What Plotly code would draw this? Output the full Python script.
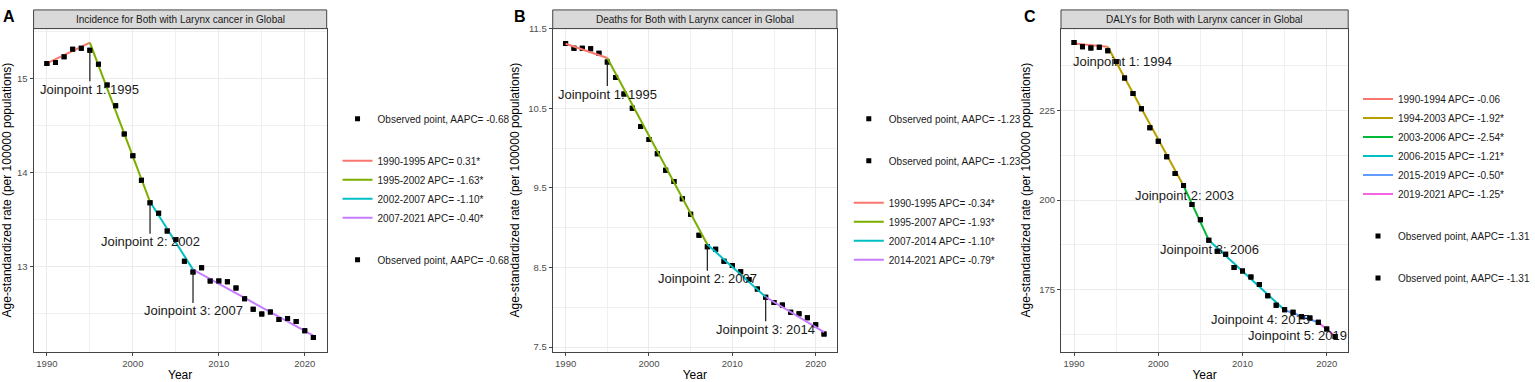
import plotly.graph_objects as go

# ---------------- data ----------------
years = [1990, 1991, 1992, 1993, 1994, 1995, 1996, 1997, 1998, 1999, 2000,
         2001, 2002, 2003, 2004, 2005, 2006, 2007, 2008, 2009, 2010, 2011,
         2012, 2013, 2014, 2015, 2016, 2017, 2018, 2019, 2020, 2021]

inc_obs = [15.16, 15.17, 15.23, 15.31, 15.32, 15.30, 15.15, 14.93, 14.71, 14.41, 14.18,
           13.92, 13.68, 13.57, 13.38, 13.29, 13.06, 12.945, 12.99, 12.85, 12.85, 12.84,
           12.775, 12.66, 12.55, 12.50, 12.52, 12.44, 12.45, 12.42, 12.32, 12.25]
inc_jp_years = [1990, 1995, 2002, 2007, 2021]
inc_jp_fit = [15.16, 15.38, 13.69, 12.97, 12.27]
inc_seg_labels = ["1990-1995 APC= 0.31*", "1995-2002 APC= -1.63*",
                  "2002-2007 APC= -1.10*", "2007-2021 APC= -0.40*"]
inc_aapc = "Observed point, AAPC= -0.68"
inc_joinpoints = [1995, 2002, 2007]

death_obs = [11.312, 11.254, 11.254, 11.247, 11.19, 11.08, 10.885, 10.68, 10.50, 10.27, 10.107,
             9.93, 9.72, 9.58, 9.365, 9.17, 8.906, 8.76, 8.73, 8.578, 8.525, 8.446,
             8.35, 8.23, 8.126, 8.06, 8.03, 7.94, 7.92, 7.87, 7.78, 7.665]
death_jp_years = [1990, 1995, 2007, 2014, 2021]
death_jp_fit = [11.31, 11.13, 8.79, 8.13, 7.69]
death_seg_labels = ["1990-1995 APC= -0.34*", "1995-2007 APC= -1.93*",
                    "2007-2014 APC= -1.10*", "2014-2021 APC= -0.79*"]
death_aapc = "Observed point, AAPC= -1.23"
death_joinpoints = [1995, 2007, 2014]

daly_obs = [244.0, 242.8, 242.5, 242.7, 241.7, 238.7, 234.1, 229.8, 225.5, 220.2, 216.4,
            212.1, 207.4, 204.1, 198.8, 194.5, 188.8, 185.7, 184.9, 181.2, 180.2, 178.5,
            176.4, 173.3, 170.6, 169.4, 168.7, 167.4, 167.1, 165.9, 164.0, 161.9]
daly_jp_years = [1990, 1994, 2003, 2006, 2015, 2019, 2021]
daly_jp_fit = [243.7, 242.8, 204.0, 188.8, 169.3, 165.8, 162.0]
daly_seg_labels = ["1990-1994 APC= -0.06", "1994-2003 APC= -1.92*", "2003-2006 APC= -2.54*",
                   "2006-2015 APC= -1.21*", "2015-2019 APC= -0.50*", "2019-2021 APC= -1.25*"]
daly_aapc = "Observed point, AAPC= -1.31"
daly_joinpoints = [1994, 2003, 2006, 2015, 2019]

titles = ["Incidence for Both with Larynx cancer in Global",
          "Deaths for Both with Larynx cancer in Global",
          "DALYs for Both with Larynx cancer in Global"]
panel_letters = ["A", "B", "C"]

colors4 = ["#F8766D", "#7CAE00", "#00BFC4", "#C77CFF"]
colors6 = ["#F8766D", "#B79F00", "#00BA38", "#00BFC4", "#619CFF", "#F564E3"]

# ---------------- layout helpers ----------------
W, H = 1535, 382
FONT = "Liberation Sans, Arial, sans-serif"


def px(x):
    return x / W


def py(y):
    return 1 - y / H


panels = [  # plot-area pixel boxes (left, right, top, bottom)
    dict(l=34, r=331, t=23, b=352, yr=[12.10, 15.53], dt=1, t0=0, mdt=0.5),
    dict(l=560, r=848, t=23, b=352, yr=[7.445, 11.50], dt=1, t0=7.5, mdt=0.5),
    dict(l=1075, r=1366, t=23, b=352, yr=[157.7, 247.9], dt=25, t0=0, mdt=12.5),
]

fig = go.Figure()


def obs_trace(vals, name, axis, legend, group, show=True):
    return go.Scatter(x=years, y=vals, mode="markers", name=name,
                      marker=dict(symbol="square", size=5, color="black"),
                      xaxis=axis[0], yaxis=axis[1], legend=legend,
                      legendgroup=group, showlegend=show, hoverinfo="x+y")


def seg_traces(jy, jv, labels, cols, axis, legend):
    out = []
    for i, lab in enumerate(labels):
        out.append(go.Scatter(x=[jy[i], jy[i + 1]], y=[jv[i], jv[i + 1]], mode="lines",
                              name=lab, line=dict(color=cols[i], width=2),
                              xaxis=axis[0], yaxis=axis[1], legend=legend,
                              legendgroup="seg"))
    return out


# Panel A: observed, segments, observed
axA = ("x", "y")
fig.add_trace(obs_trace(inc_obs, inc_aapc, axA, "legend", "o1"))
for t in seg_traces(inc_jp_years, inc_jp_fit, inc_seg_labels, colors4, axA, "legend"):
    fig.add_trace(t)
fig.add_trace(obs_trace(inc_obs, inc_aapc, axA, "legend", "o2"))

# Panel B: observed, observed, segments
axB = ("x2", "y2")
fig.add_trace(obs_trace(death_obs, death_aapc, axB, "legend2", "o1"))
fig.add_trace(obs_trace(death_obs, death_aapc, axB, "legend2", "o2"))
for t in seg_traces(death_jp_years, death_jp_fit, death_seg_labels, colors4, axB, "legend2"):
    fig.add_trace(t)

# Panel C: segments, observed, observed
axC = ("x3", "y3")
for t in seg_traces(daly_jp_years, daly_jp_fit, daly_seg_labels, colors6, axC, "legend3"):
    fig.add_trace(t)
fig.add_trace(obs_trace(daly_obs, daly_aapc, axC, "legend3", "o1"))
fig.add_trace(obs_trace(daly_obs, daly_aapc, axC, "legend3", "o2"))

# ---------------- axes ----------------
axis_common = dict(showline=True, mirror=True, linecolor="#444444", linewidth=1,
                   showgrid=True, gridcolor="#EBEBEB", gridwidth=1,
                   ticks="outside", ticklen=3, tickwidth=1, tickcolor="#444444",
                   tickfont=dict(family=FONT, size=9.5, color="#4D4D4D"),
                   zeroline=False)
shapes = []
annotations = []
for i, p in enumerate(panels):
    sfx = "" if i == 0 else str(i + 1)
    fig.layout["xaxis" + sfx] = dict(
        axis_common, domain=[px(p["l"]), px(p["r"])], range=[1988.45, 2022.55],
        tick0=1990, dtick=10, anchor="y" + sfx,
        minor=dict(dtick=5, tick0=1990, showgrid=True, gridcolor="#F0F0F0", gridwidth=0.7),
        title=dict(text="Year", font=dict(family=FONT, size=12, color="black"), standoff=3))
    fig.layout["yaxis" + sfx] = dict(
        axis_common, domain=[py(p["b"]), py(p["t"])], range=p["yr"],
        tick0=p["t0"], dtick=p["dt"], anchor="x" + sfx,
        minor=dict(dtick=p["mdt"], tick0=p["t0"], showgrid=True, gridcolor="#F0F0F0", gridwidth=0.7),
        title=dict(text="Age-standardized rate (per 100000 populations)",
                   font=dict(family=FONT, size=12, color="black"), standoff=6))
    # strip
    shapes.append(dict(type="rect", xref="paper", yref="paper",
                       x0=px(p["l"]), x1=px(p["r"]), y0=py(p["t"]), y1=py(4),
                       fillcolor="#D9D9D9", line=dict(color="#444444", width=1), layer="above"))
    annotations.append(dict(text=titles[i], xref="paper", yref="paper",
                            x=px((p["l"] + p["r"]) / 2), y=py(13.5), showarrow=False,
                            xanchor="center", yanchor="middle",
                            font=dict(family=FONT, size=10, color="#1A1A1A")))

letter_x = [9, 527, 1044]
for L, lx in zip(panel_letters, letter_x):
    annotations.append(dict(text="<b>%s</b>" % L, xref="paper", yref="paper",
                            x=px(lx), y=py(11), showarrow=False, xanchor="center",
                            yanchor="middle", font=dict(family=FONT, size=16, color="black")))

# joinpoint labels with connecting segments (A, B)
jp_font = dict(family=FONT, size=13, color="#1A1A1A")
for jps, obs, ax, offset in [(inc_joinpoints, inc_obs, axA, 39),
                             (death_joinpoints, death_obs, axB, 32)]:
    for k, yr in enumerate(jps):
        annotations.append(dict(text="Joinpoint %d: %d" % (k + 1, yr), x=yr,
                                y=obs[years.index(yr)], xref=ax[0], yref=ax[1],
                                showarrow=True, arrowhead=0, arrowwidth=1.2,
                                arrowcolor="#1A1A1A", ax=0, ay=offset, standoff=0,
                                font=jp_font, borderpad=0))

# joinpoint labels for C (text only, shifted like the original)
c_shifts = [(15, -10.3), (1, -10.3), (1, -9.6), (-24, -10), (-21, -13)]
for k, yr in enumerate(daly_joinpoints):
    annotations.append(dict(text="Joinpoint %d: %d" % (k + 1, yr), x=yr,
                            y=daly_obs[years.index(yr)], xref="x3", yref="y3",
                            showarrow=False, xanchor="center", yanchor="middle",
                            xshift=c_shifts[k][0], yshift=c_shifts[k][1], font=jp_font))

legend_common = dict(xanchor="left", yanchor="top", traceorder="grouped",
                     tracegroupgap=23, bgcolor="rgba(0,0,0,0)",
                     font=dict(family=FONT, size=10, color="#1A1A1A"))

fig.update_layout(
    width=W, height=H, margin=dict(l=0, r=0, t=0, b=0),
    paper_bgcolor="white", plot_bgcolor="white",
    font=dict(family=FONT),
    shapes=shapes, annotations=annotations,
    legend=dict(legend_common, x=px(342), y=py(100)),
    legend2=dict(legend_common, x=px(860), y=py(100)),
    legend3=dict(legend_common, x=px(1376), y=py(80)),
)

fig.write_html(
    "out.html",
    config={"displayModeBar": False},
    post_script=("document.body.style.margin='0px';"
                 "var gd=document.getElementById('{plot_id}');"
                 "gd.style.position='absolute';gd.style.left='0px';gd.style.top='0px';"),
)
